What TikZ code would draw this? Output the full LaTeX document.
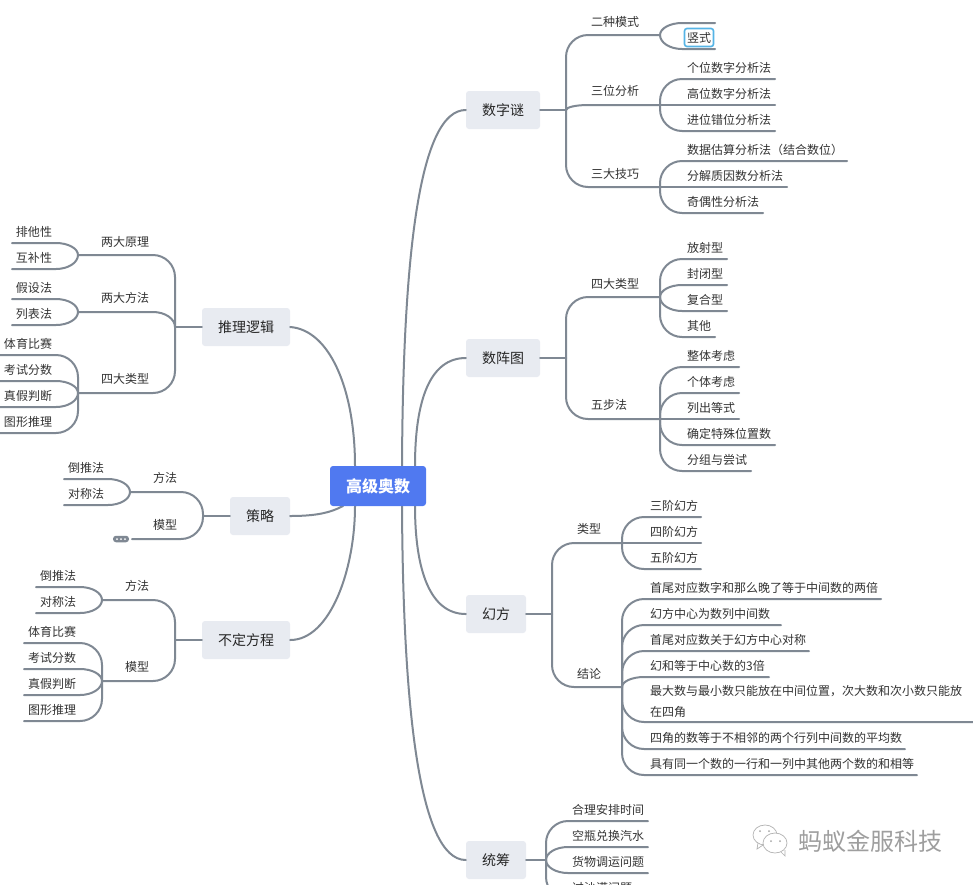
\documentclass[tikz,border=0pt]{standalone}
\usepackage{fontspec}
\setmainfont{Noto Sans CJK SC}
\usetikzlibrary{calc}
\definecolor{linec}{HTML}{7F8893}
\definecolor{boxc}{HTML}{E8EBF1}
\definecolor{rootc}{HTML}{5079F0}
\definecolor{textc}{HTML}{333333}
\definecolor{selc}{HTML}{55B4E6}
\tikzset{
  conn/.style={draw=linec,line width=2pt,line cap=round},
  topicbox/.style={fill=boxc,rounded corners=3pt,text=black!85,font=\fontsize{14}{16}\selectfont,minimum height=38pt,inner sep=0pt,anchor=center},
  rootbox/.style={fill=rootc,rounded corners=3pt,text=white,font=\fontsize{16}{18}\selectfont\bfseries,minimum height=40pt,minimum width=96pt,inner sep=0pt},
  lab/.style={text=textc,font=\fontsize{12}{14}\selectfont,inner sep=0pt},
  wm/.style={text=black!38,font=\fontsize{24}{26}\selectfont,inner sep=0pt}
}
% branch from junction #2 to end point #3, vertical corner radius #1
\newcommand\conn[3][22]{%
  \draw[conn] let \p1=(#2),\p2=(#3),
    \n1={min(abs(\y2-\y1),#1)*((\y2>\y1)?1:-1)},
    \n2={22*((\x2>\x1)?1:-1)} in
    (#2) -- (\x1,{\y2-\n1}) .. controls (\x1,{\y2-0.45*\n1}) and ({\x1+0.45*\n2},\y2) .. ({\x1+\n2},\y2) -- (#3);}
% leaf on the right side
\newcommand\leafR[6]{%
  \node[lab,anchor=west] (#2) at (#3,#5-11.5) {#6};
  \coordinate (#2e) at (#4,#5);
  \conn{#1}{#2e}}
% leaf on the left side, text centre x
\newcommand\leafL[6]{%
  \node[lab] (#2) at (#3,#5-11.5) {#6};
  \coordinate (#2e) at (#4,#5);
  \conn{#1}{#2e}}
\begin{document}
\begin{tikzpicture}[x=1pt,y=-1pt]
\useasboundingbox (0,0) rectangle (973,884);
\clip (0,0) rectangle (973,884);
\fill[white] (0,0) rectangle (973,884);

% topics
\node[topicbox,minimum width=74pt] (t1) at (503,110) {数字谜};
\node[topicbox,minimum width=74pt] (t2) at (503,358) {数阵图};
\node[topicbox,minimum width=60pt] (t3) at (496,614) {幻方};
\node[topicbox,minimum width=60pt] (t4) at (496,860) {统筹};
\node[topicbox,minimum width=88pt] (t5) at (246,327) {推理逻辑};
\node[topicbox,minimum width=60pt] (t6) at (260,516) {策略};
\node[topicbox,minimum width=88pt] (t7) at (246,640) {不定方程};
\coordinate (rootc) at (378,486);

% trunks
\draw[conn] ($(rootc)+(24,-20)$) .. controls (403,250) and (420,110) .. (t1.west);
\draw[conn] ($(rootc)+(37,-20)$) .. controls (415,400) and (430,358) .. (t2.west);
\draw[conn] ($(rootc)+(37,20)$) .. controls (415,570) and (430,614) .. (t3.west);
\draw[conn] ($(rootc)+(24,20)$) .. controls (403,700) and (418,860) .. (t4.west);
\draw[conn] (t5.east) .. controls (330,330) and (355,390) .. ($(rootc)+(-23,-20)$);
\draw[conn] (t6.east) .. controls (315,516) and (330,513) .. ($(rootc)+(-35,20)$);
\draw[conn] (t7.east) .. controls (330,640) and (355,570) .. ($(rootc)+(-23,20)$);
\node[rootbox] (root) at (rootc) {高级奥数};

% ---- 数字谜
\coordinate (j1) at (566,110);
\draw[conn] (t1.east) -- (j1);
\coordinate (a1) at (660,35); \coordinate (a2) at (660,105); \coordinate (a3) at (660,187);
\node[lab] (a1t) at (615,21.5) {二种模式};
\node[lab] (a2t) at (615,90.5) {三位分析};
\node[lab] (a3t) at (615,173.5) {三大技巧};
\conn{j1}{a1}\conn{j1}{a2}\conn{j1}{a3}
\coordinate (a11e) at (715,23); \coordinate (a12e) at (715,49);
\conn{a1}{a11e}\conn{a1}{a12e}
\node[draw=selc,line width=1.6pt,fill=white,rounded corners=2.5pt,text=textc,font=\fontsize{12}{14}\selectfont,minimum width=29pt,minimum height=18pt,inner sep=0pt] (a12) at (699,37.5) {竖式};
\leafR{a2}{a21}{687}{775}{79}{个位数字分析法}
\leafR{a2}{a22}{687}{775}{105}{高位数字分析法}
\leafR{a2}{a23}{687}{775}{131}{进位错位分析法}
\leafR{a3}{a31}{687}{847}{161}{数据估算分析法（结合数位）}
\leafR{a3}{a32}{687}{787}{187}{分解质因数分析法}
\leafR{a3}{a33}{687}{763}{213}{奇偶性分析法}

% ---- 数阵图
\coordinate (j2) at (566,358);
\draw[conn] (t2.east) -- (j2);
\coordinate (b1) at (660,297); \coordinate (b2) at (660,419);
\node[lab] (b1t) at (615,284) {四大类型};
\node[lab] (b2t) at (609,405) {五步法};
\conn{j2}{b1}\conn{j2}{b2}
\leafR{b1}{b11}{687}{727}{259}{放射型}
\leafR{b1}{b12}{687}{727}{285}{封闭型}
\leafR{b1}{b13}{687}{727}{311}{复合型}
\leafR{b1}{b14}{687}{715}{337}{其他}
\leafR{b2}{b21}{687}{739}{367}{整体考虑}
\leafR{b2}{b22}{687}{739}{393}{个体考虑}
\leafR{b2}{b23}{687}{739}{419}{列出等式}
\leafR{b2}{b24}{687}{775}{445}{确定特殊位置数}
\leafR{b2}{b25}{687}{751}{471}{分组与尝试}

% ---- 幻方
\coordinate (j3) at (552,614);
\draw[conn] (t3.east) -- (j3);
\coordinate (c1) at (622,543); \coordinate (c2) at (622,687);
\node[lab] (c1t) at (589,528.5) {类型};
\node[lab] (c2t) at (589,674) {结论};
\conn{j3}{c1}\conn{j3}{c2}
\leafR{c1}{c11}{650}{701}{517}{三阶幻方}
\leafR{c1}{c12}{650}{701}{543}{四阶幻方}
\leafR{c1}{c13}{650}{701}{569}{五阶幻方}
\leafR{c2}{c21}{650}{881}{599}{首尾对应数字和那么晚了等于中间数的两倍}
\leafR{c2}{c22}{650}{781}{625}{幻方中心为数列中间数}
\leafR{c2}{c23}{650}{809}{651}{首尾对应数关于幻方中心对称}
\leafR{c2}{c24}{650}{769}{677}{幻和等于中心数的3倍}
\node[lab,anchor=west] (c25) at (650,691.5) {最大数与最小数只能放在中间位置，次大数和次小数只能放};
\node[lab,anchor=west] (c25b) at (650,711.5) {在四角};
\coordinate (c25e) at (973,722);
\conn{c2}{c25e}
\leafR{c2}{c26}{650}{905}{749}{四角的数等于不相邻的两个行列中间数的平均数}
\leafR{c2}{c27}{650}{917}{775}{具有同一个数的一行和一列中其他两个数的和相等}

% ---- 统筹
\coordinate (j4) at (546,860);
\draw[conn] (t4.east) -- (j4);
\leafR{j4}{d1}{572}{648}{821}{合理安排时间}
\leafR{j4}{d2}{572}{648}{847}{空瓶兑换汽水}
\leafR{j4}{d3}{572}{648}{873}{货物调运问题}
\leafR{j4}{d4}{572}{648}{899}{过沙漠问题}

% ---- 推理逻辑
\coordinate (j5) at (175,327);
\draw[conn] (t5.west) -- (j5);
\coordinate (e1) at (78,255); \coordinate (e2) at (78,312); \coordinate (e3) at (78,393);
\node[lab] (e1t) at (125,242) {两大原理};
\node[lab] (e2t) at (125,298) {两大方法};
\node[lab] (e3t) at (125,379) {四大类型};
\conn{j5}{e1}\conn{j5}{e2}\conn{j5}{e3}
\leafL{e1}{e11}{34}{12}{243}{排他性}
\leafL{e1}{e12}{34}{12}{269}{互补性}
\leafL{e2}{e21}{34}{12}{299}{假设法}
\leafL{e2}{e22}{34}{12}{325}{列表法}
\leafL{e3}{e31}{28}{-2}{355}{体育比赛}
\leafL{e3}{e32}{28}{-2}{381}{考试分数}
\leafL{e3}{e33}{28}{-2}{407}{真假判断}
\leafL{e3}{e34}{28}{-2}{433}{图形推理}

% ---- 策略
\coordinate (j6) at (203,516);
\draw[conn] (t6.west) -- (j6);
\coordinate (f1) at (130,492); \coordinate (f2e) at (132,539);
\node[lab] (f1t) at (165,478) {方法};
\node[lab] (f2t) at (165,525) {模型};
\conn{j6}{f1}
\node[fill=linec,rounded corners=3pt,minimum width=16pt,minimum height=6.5pt,inner sep=0pt] (more) at (121,539) {};
\fill[white] (117,539) circle (1pt) (121,539) circle (1pt) (125,539) circle (1pt);
\conn{j6}{f2e}
\leafL{f1}{f11}{86}{64}{479}{倒推法}
\leafL{f1}{f12}{86}{64}{505}{对称法}

% ---- 不定方程
\coordinate (j7) at (175,640);
\draw[conn] (t7.west) -- (j7);
\coordinate (g1) at (102,600); \coordinate (g2) at (102,681);
\node[lab] (g1t) at (137,586) {方法};
\node[lab] (g2t) at (137,667) {模型};
\conn{j7}{g1}\conn{j7}{g2}
\leafL{g1}{g11}{58}{36}{587}{倒推法}
\leafL{g1}{g12}{58}{36}{613}{对称法}
\leafL{g2}{g21}{52}{24}{643}{体育比赛}
\leafL{g2}{g22}{52}{24}{669}{考试分数}
\leafL{g2}{g23}{52}{24}{695}{真假判断}
\leafL{g2}{g24}{52}{24}{721}{图形推理}

% ---- watermark
\node[wm] (wmtext) at (870,841) {蚂蚁金服科技};
\draw[black!30,fill=white,line width=.7pt] (765,835) ellipse (12pt and 10pt);
\draw[black!30,line width=.7pt] (758,843) -- (757,849) -- (763,845);
\draw[black!30,fill=white,line width=.7pt] (775,843) ellipse (12pt and 10pt);
\draw[black!30,line width=.7pt] (781,852) -- (785,856) -- (785,850);
\fill[black!35] (771,841) circle (1pt) (780,841) circle (1pt) (760,831) circle (1pt) (769,831) circle (1pt);
\end{tikzpicture}
\end{document}
